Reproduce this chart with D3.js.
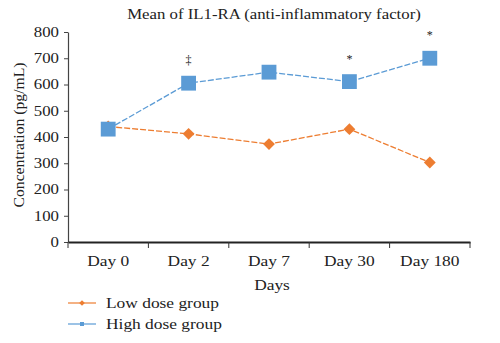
<!DOCTYPE html>
<html>
<head>
<meta charset="utf-8">
<script src="https://cdn.jsdelivr.net/npm/d3@7"></script>
<style>
  body { margin: 0; background: #fff; }
  text { font-family: "Liberation Serif", "DejaVu Serif", serif; fill: #222; }
</style>
</head>
<body>
<div id="chart"></div>
<script>
const W = 500, H = 343;
const margin = {top: 32, right: 30, bottom: 101, left: 68};
const width = W - margin.left - margin.right;
const height = H - margin.top - margin.bottom;
const wide = 1.2; // horizontal stretch for the wide serif lettering

// days sampled and group means (pg/mL)
var days = ["Day 0", "Day 2", "Day 7", "Day 30", "Day 180"];
var lowDose = [440, 412, 373, 430, 303];
var highDose = [430, 605, 647, 611, 700];
var marks = ["", "‡", "", "*", "*"]; // significance marks over the high dose group
var yTicks = [0, 100, 200, 300, 400, 500, 600, 700, 800];

var orange = "#ed7d31", blue = "#5b9bd5";

var xScale = d3.scaleBand().domain(days).range([0, width]);
var yScale = d3.scaleLinear().domain([0, 800]).range([height, 0]);

var svg = d3.select("#chart").append("svg")
    .attr("width", W)
    .attr("height", H)
    .append("g")
    .attr("transform", "translate(" + margin.left + "," + margin.top + ")");

// text placed at (x,y) and widened along its baseline
function label(x, y, str, size, anchor, rot) {
    return svg.append("text")
        .attr("transform", "translate(" + x + "," + y + ")" + (rot ? " rotate(" + rot + ")" : "") +
            " scale(" + (rot ? 1.12 : wide) + ",1)")
        .attr("text-anchor", anchor || "middle")
        .style("font-size", size + "px")
        .text(str);
}

var yAxis = d3.axisLeft(yScale).tickValues(yTicks).tickSize(4).tickSizeOuter(0);
var xAxis = d3.axisBottom(xScale).tickSize(6).tickSizeOuter(0);

var gy = svg.append("g").attr("class", "y axis").call(yAxis);
gy.select(".domain").attr("stroke", "#444").attr("stroke-width", 1.2);
gy.selectAll(".tick line").attr("stroke", "#444");
gy.selectAll("text").style("font-size", "14px")
    .attr("x", -9 / wide)
    .attr("transform", "scale(" + wide + ",1)");

var gx = svg.append("g").attr("class", "x axis")
    .attr("transform", "translate(0," + height + ")")
    .call(xAxis);
gx.select(".domain").attr("stroke", "#222").attr("stroke-width", 2);
// ticks sit between the categories
gx.selectAll(".tick line").remove();
var edges = days.map(function (d) { return xScale(d); }).concat([width]);
gx.selectAll("line.sep").data(edges).enter().append("line")
    .attr("class", "sep")
    .attr("x1", function (d) { return d; })
    .attr("x2", function (d) { return d; })
    .attr("y1", 0).attr("y2", 6)
    .attr("stroke", "#333");
gx.selectAll(".tick text").style("font-size", "14.5px")
    .attr("y", 24).attr("dy", 0)
    .attr("transform", "scale(" + wide + ",1)");

var cx = function (i) { return xScale(days[i]) + xScale.bandwidth() / 2; };
var line = d3.line()
    .x(function (d, i) { return cx(i); })
    .y(function (d) { return yScale(d); });

function drawSeries(values, color, symbolType, size, angle) {
    svg.append("path")
        .datum(values)
        .attr("fill", "none")
        .attr("stroke", color)
        .attr("stroke-width", 1.3)
        .attr("stroke-dasharray", "6,2")
        .attr("d", line);
    svg.selectAll(null).data(values).enter().append("path")
        .attr("d", d3.symbol().type(symbolType).size(size))
        .attr("transform", function (d, i) {
            return "translate(" + cx(i) + "," + yScale(d) + ") rotate(" + angle + ")";
        })
        .attr("fill", color);
}

// diamonds are squares turned 45 degrees
drawSeries(lowDose, orange, d3.symbolSquare, 70, 45);
drawSeries(highDose, blue, d3.symbolSquare, 220, 0);

svg.selectAll("text.mark").data(highDose).enter().append("text")
    .attr("class", "mark")
    .attr("x", function (d, i) { return cx(i); })
    .attr("y", function (d) { return yScale(d) - 19; })
    .attr("text-anchor", "middle")
    .style("font-size", "12px")
    .text(function (d, i) { return marks[i]; });

// title and axis labels
label(width / 2 + 5, -13, "Mean of IL1-RA (anti-inflammatory factor)", 14);
label(-44, height / 2 - 2, "Concentration (pg/mL)", 14, "middle", -90);
label(width / 2 + 3, height + 48, "Days", 14.5);

// legend
var legend = [
    {name: "Low dose group", color: orange, angle: 45},
    {name: "High dose group", color: blue, angle: 0}
];
var lg = svg.selectAll("g.legend").data(legend).enter().append("g")
    .attr("class", "legend")
    .attr("transform", function (d, i) { return "translate(0," + (height + 61 + i * 21) + ")"; });
lg.append("line")
    .attr("x1", 0).attr("x2", 28)
    .attr("stroke", function (d) { return d.color; })
    .attr("stroke-width", 1.2);
lg.append("path")
    .attr("d", d3.symbol().type(d3.symbolSquare).size(16))
    .attr("transform", function (d) { return "translate(14,0) rotate(" + d.angle + ")"; })
    .attr("fill", function (d) { return d.color; });
lg.append("text")
    .attr("transform", "translate(38,0) scale(" + wide + ",1)")
    .attr("dy", "0.35em")
    .style("font-size", "14.5px")
    .text(function (d) { return d.name; });
</script>
</body>
</html>
